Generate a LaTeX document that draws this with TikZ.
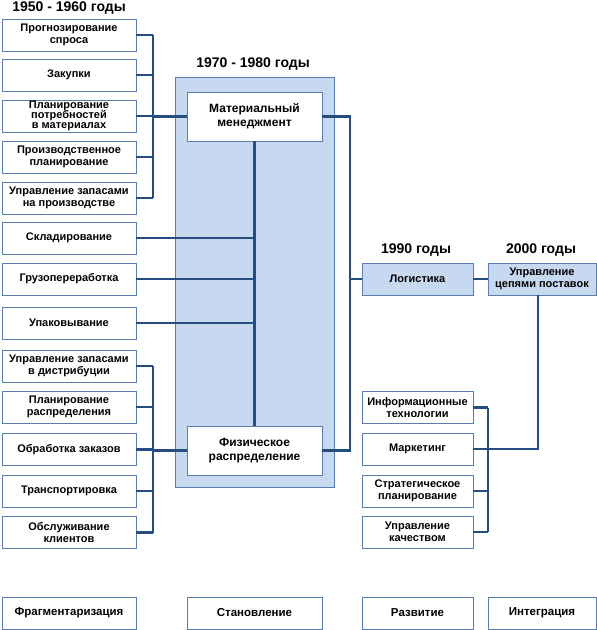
\documentclass[tikz,border=0pt]{standalone}
\usepackage{fontspec}
\setmainfont{Liberation Sans}
\definecolor{boxline}{HTML}{5A7DB0}
\definecolor{boxfill}{HTML}{C6D9F0}
\definecolor{linkcol}{HTML}{264D82}
\tikzset{
  item/.style={draw=boxline, fill=white, line width=0.9pt, align=center, inner sep=1pt,
    minimum height=32pt, font=\fontsize{11}{12}\selectfont\bfseries},
  bigitem/.style={item, minimum width=135pt, minimum height=49pt,
    font=\fontsize{12}{14}\selectfont\bfseries},
  stage/.style={item, font=\fontsize{11.5}{13}\selectfont\bfseries},
  period/.style={anchor=base, inner sep=0pt, font=\fontsize{14}{16}\selectfont\bfseries},
  link/.style={draw=linkcol, line width=2.4pt},
}
\begin{document}
\begin{tikzpicture}[x=1pt, y=-1pt]
  \useasboundingbox (0,0) rectangle (597,630);
  % titles
  \node[period] (t1) at (69,11) {1950 - 1960 годы};
  \node[period] (t2) at (253,67) {1970 - 1980 годы};
  \node[period] (t3) at (416,253) {1990 годы};
  \node[period] (t4) at (541,253) {2000 годы};
  % middle frame
  \draw[boxline, fill=boxfill, line width=0.9pt] (175,77) rectangle (334,487);
  \node[bigitem] (mm) at (254.5,116.5) {Материальный\\менеджмент};
  \node[bigitem] (pd) at (254.5,450.5) {Физическое\\распределение};
  % left groups
  \foreach \y/\t [count=\i] in {35/Прогнозирование\\спроса, 75/Закупки,
      116/Планирование\\[-2pt]потребностей\\[-2pt]в материалах, 157/Производственное\\планирование,
      198/Управление запасами\\на производстве}
    \node[item, minimum width=134pt] (f\i) at (69,\y) {\t};
  \foreach \y/\t [count=\i] in {238/Складирование, 279/Грузопереработка, 323/Упаковывание}
    \node[item, minimum width=134pt] (m\i) at (69,\y) {\t};
  \foreach \y/\t [count=\i] in {366/Управление запасами\\в дистрибуции, 407/Планирование\\распределения,
      449.5/Обработка заказов, 491/Транспортировка, 532.5/Обслуживание\\клиентов}
    \node[item, minimum width=134pt] (d\i) at (69,\y) {\t};
  % right side
  \node[item, fill=boxfill, minimum width=111pt] (log) at (417.5,279) {Логистика};
  \node[item, fill=boxfill, minimum width=108pt] (scm) at (542,279) {Управление\\цепями поставок};
  \foreach \y/\t [count=\i] in {407.5/Информационные\\технологии, 449/Маркетинг,
      491/Стратегическое\\планирование, 532/Управление\\качеством}
    \node[item, minimum width=111pt] (r\i) at (417.5,\y) {\t};
  % bottom row
  \node[stage, minimum width=134pt] (b1) at (69,613) {Фрагментаризация};
  \node[stage, minimum width=135pt] (b2) at (254.5,613) {Становление};
  \node[stage, minimum width=111pt] (b3) at (417.5,613) {Развитие};
  \node[stage, minimum width=108pt] (b4) at (542,613) {Интеграция};
  % connectors
  \coordinate (busl) at (153,0);
  \coordinate (busm) at (350,0);
  \coordinate (busr) at (488,0);
  \foreach \i in {1,...,5} {
    \draw[link] (f\i.east) -- (f\i.east -| busl);
    \draw[link] (d\i.east) -- (d\i.east -| busl);
  }
  \draw[link] (f1.east -| busl) -- (f5.east -| busl);
  \draw[link] (d1.east -| busl) -- (d5.east -| busl);
  \draw[link] (mm.west -| busl) -- (mm.west);
  \draw[link] (pd.west -| busl) -- (pd.west);
  \draw[link] (mm.south) -- (pd.north);
  \foreach \i in {1,2,3}
    \draw[link] (m\i.east) -- (m\i.east -| mm.south);
  \draw[link] (mm.east) -- (mm.east -| busm) -- (pd.east -| busm) -- (pd.east);
  \draw[link] (log.west -| busm) -- (log.west);
  \draw[link] (log.east) -- (scm.west);
  \draw[link] ([xshift=-4pt]scm.south) |- (r2.east -| busr);
  \foreach \i in {1,...,4}
    \draw[link] (r\i.east) -- (r\i.east -| busr);
  \draw[link] (r1.east -| busr) -- (r4.east -| busr);
\end{tikzpicture}
\end{document}
